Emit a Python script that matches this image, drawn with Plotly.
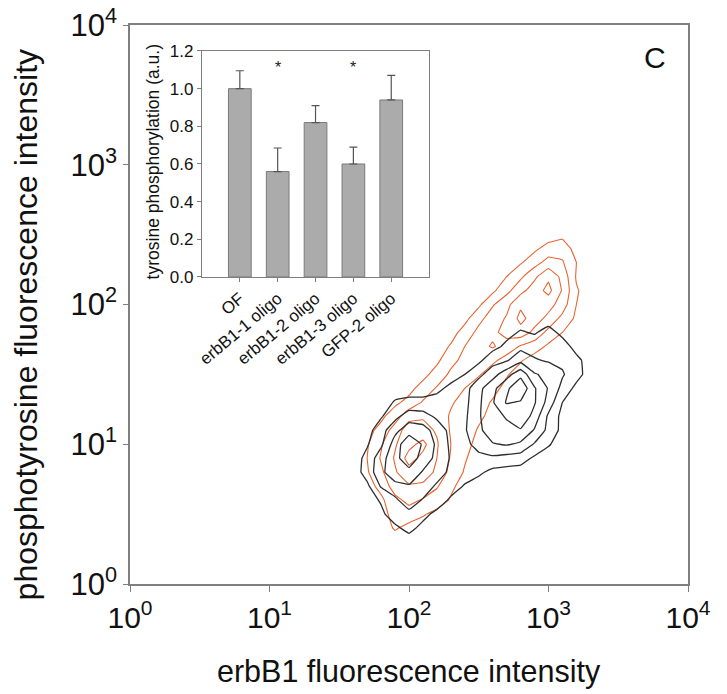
import numpy as np
import plotly.graph_objects as go

# ---------------- data ----------------
# inset bar chart
bar_labels = ["OF", "erbB1-1 oligo", "erbB1-2 oligo", "erbB1-3 oligo", "GFP-2 oligo"]
bar_values = [1.00, 0.56, 0.82, 0.60, 0.94]
bar_errors = [0.095, 0.125, 0.09, 0.09, 0.13]
signif = [False, True, False, True, False]

# density grids (log10 of intensities)
grid_log_x = [1.6, 1.7, 1.8, 1.9, 2.0, 2.1, 2.2, 2.3, 2.4, 2.5,
              2.6, 2.7, 2.8, 2.9, 3.0, 3.1, 3.2, 3.3, 3.4]
grid_log_y_top_down = [2.6, 2.5, 2.4, 2.3, 2.2, 2.1, 2.0, 1.9, 1.8, 1.7, 1.6, 1.5,
                       1.4, 1.3, 1.2, 1.1, 1.0, 0.9, 0.8, 0.7, 0.6, 0.5, 0.4, 0.3]

# orange: erbB1 antisense oligo treated cells (rows top -> bottom)
orange_density = [
    # 1.6 1.7 1.8 1.9 2.0 2.1 2.2 2.3 2.4 2.5 2.6 2.7 2.8 2.9 3.0 3.1 3.2 3.3 3.4
    [0, 0, 0, 0, 0, 0, 0, 0, 0, 0, 0, 0, 0, 0, 0, 0, 0, 0, 0],                       # 2.6
    [0, 0, 0, 0, 0, 0, 0, 0, 0, 0, 0, 0, 0, 0, 0, 0.2, 0, 0, 0],                     # 2.5
    [0, 0, 0, 0, 0, 0, 0, 0, 0, 0, 0, 0, 0, 0.3, 0.9, 1.1, 0.1, 0, 0],               # 2.4
    [0, 0, 0, 0, 0, 0, 0, 0, 0, 0, 0, 0, 0.4, 1.1, 1.9, 1.6, 0.5, 0, 0],             # 2.3
    [0, 0, 0, 0, 0, 0, 0, 0, 0, 0, 0, 0.5, 1.3, 2.3, 3.3, 2.2, 0.4, 0, 0],           # 2.2
    [0, 0, 0, 0, 0, 0, 0, 0, 0, 0, 0.3, 1.2, 2.2, 3.0, 3.8, 2.4, 0.6, 0, 0],         # 2.1
    [0, 0, 0, 0, 0, 0, 0, 0, 0, 0.3, 1.4, 2.2, 3.3, 3.2, 2.9, 2.0, 0.5, 0, 0],       # 2.0
    [0, 0, 0, 0, 0, 0, 0, 0, 0.2, 1.2, 2.0, 2.6, 3.8, 3.0, 2.2, 1.2, 0.3, 0, 0],     # 1.9
    [0, 0, 0, 0, 0, 0, 0, 0.1, 0.9, 1.8, 2.3, 2.8, 3.1, 2.2, 1.2, 0.5, 0, 0, 0],     # 1.8
    [0, 0, 0, 0, 0, 0, 0, 0.6, 1.5, 2.2, 2.6, 2.1, 1.4, 1.0, 0.3, 0, 0, 0, 0],       # 1.7
    [0, 0, 0, 0, 0, 0, 0.3, 1.2, 1.8, 2.0, 1.7, 1.1, 0.6, 0, 0, 0, 0, 0, 0],         # 1.6
    [0, 0, 0, 0, 0, 0.2, 0.9, 1.7, 2.0, 1.6, 1.0, 0.6, 0, 0, 0, 0, 0, 0, 0],         # 1.5
    [0, 0, 0, 0, 0.2, 0.9, 1.6, 1.8, 1.5, 1.0, 0.8, 0.2, 0, 0, 0, 0, 0, 0, 0],       # 1.4
    [0, 0, 0, 0.3, 0.8, 1.6, 1.9, 1.6, 1.2, 0.9, 0.4, 0, 0, 0, 0, 0, 0, 0, 0],       # 1.3
    [0, 0, 0.3, 1.0, 2.2, 2.4, 2.0, 1.4, 1.1, 0.7, 0.2, 0, 0, 0, 0, 0, 0, 0, 0],     # 1.2
    [0, 0.2, 0.8, 2.0, 3.0, 2.8, 2.4, 1.4, 1.0, 0.4, 0, 0, 0, 0, 0, 0, 0, 0, 0],     # 1.1
    [0, 0.4, 1.4, 2.4, 3.2, 3.8, 2.6, 1.5, 0.8, 0.2, 0, 0, 0, 0, 0, 0, 0, 0, 0],     # 1.0
    [0, 0.5, 1.6, 2.6, 3.9, 3.2, 2.5, 1.4, 0.6, 0, 0, 0, 0, 0, 0, 0, 0, 0, 0],       # 0.9
    [0, 0.4, 1.3, 2.4, 3.1, 3.3, 2.2, 1.2, 0.4, 0, 0, 0, 0, 0, 0, 0, 0, 0, 0],       # 0.8
    [0, 0.1, 0.8, 2.0, 2.4, 2.2, 1.6, 0.7, 0.1, 0, 0, 0, 0, 0, 0, 0, 0, 0, 0],       # 0.7
    [0, 0, 0.3, 1.2, 1.8, 1.4, 1.0, 0.4, 0, 0, 0, 0, 0, 0, 0, 0, 0, 0, 0],           # 0.6
    [0, 0, 0.1, 0.9, 1.0, 0.6, 0.2, 0, 0, 0, 0, 0, 0, 0, 0, 0, 0, 0, 0],             # 0.5
    [0, 0, 0, 0.6, 0.2, 0, 0, 0, 0, 0, 0, 0, 0, 0, 0, 0, 0, 0, 0],                   # 0.4
    [0, 0, 0, 0, 0, 0, 0, 0, 0, 0, 0, 0, 0, 0, 0, 0, 0, 0, 0],                       # 0.3
]

# black: control cells (rows top -> bottom)
black_density = [
    # 1.6 1.7 1.8 1.9 2.0 2.1 2.2 2.3 2.4 2.5 2.6 2.7 2.8 2.9 3.0 3.1 3.2 3.3 3.4
    [0, 0, 0, 0, 0, 0, 0, 0, 0, 0, 0, 0, 0, 0, 0, 0, 0, 0, 0],                       # 2.6
    [0, 0, 0, 0, 0, 0, 0, 0, 0, 0, 0, 0, 0, 0, 0, 0, 0, 0, 0],                       # 2.5
    [0, 0, 0, 0, 0, 0, 0, 0, 0, 0, 0, 0, 0, 0, 0, 0, 0, 0, 0],                       # 2.4
    [0, 0, 0, 0, 0, 0, 0, 0, 0, 0, 0, 0, 0, 0, 0, 0, 0, 0, 0],                       # 2.3
    [0, 0, 0, 0, 0, 0, 0, 0, 0, 0, 0, 0, 0, 0, 0, 0, 0, 0, 0],                       # 2.2
    [0, 0, 0, 0, 0, 0, 0, 0, 0, 0, 0, 0, 0, 0, 0, 0, 0, 0, 0],                       # 2.1
    [0, 0, 0, 0, 0, 0, 0, 0, 0, 0, 0, 0, 0, 0, 0, 0, 0, 0, 0],                       # 2.0
    [0, 0, 0, 0, 0, 0, 0, 0, 0, 0, 0, 0, 0, 0, 0, 0, 0, 0, 0],                       # 1.9
    [0, 0, 0, 0, 0, 0, 0, 0, 0, 0, 0, 0.2, 0.6, 0.4, 0.9, 0.2, 0, 0, 0],             # 1.8
    [0, 0, 0, 0, 0, 0, 0, 0, 0, 0, 0.2, 0.7, 1.2, 1.1, 1.3, 1.0, 0.1, 0, 0],         # 1.7
    [0, 0, 0, 0, 0, 0, 0, 0, 0, 0.3, 1.1, 1.4, 2.2, 1.6, 1.4, 1.3, 0.8, 0, 0],       # 1.6
    [0, 0, 0, 0, 0, 0, 0, 0, 0.5, 1.2, 2.1, 3.1, 4.2, 2.6, 2.2, 1.6, 0.9, 0, 0],     # 1.5
    [0, 0, 0, 0, 0, 0, 0.2, 0.8, 1.1, 2.2, 3.2, 4.3, 5.3, 3.6, 2.4, 1.2, 0.2, 0, 0], # 1.4
    [0, 0, 0, 0.6, 0.8, 0.8, 1.0, 1.1, 1.2, 2.3, 3.4, 4.6, 4.4, 3.6, 2.1, 0.5, 0, 0, 0],  # 1.3
    [0, 0, 0.4, 1.2, 2.0, 1.9, 1.3, 1.0, 1.3, 2.4, 3.1, 3.6, 4.3, 3.1, 1.3, 0.2, 0, 0, 0],  # 1.2
    [0, 0.1, 1.1, 2.2, 3.1, 2.9, 2.1, 1.2, 1.4, 2.2, 3.3, 3.2, 3.4, 2.4, 1.2, 0.2, 0, 0, 0],  # 1.1
    [0, 0.4, 1.3, 3.0, 4.2, 3.4, 2.3, 1.3, 1.2, 1.9, 2.4, 2.6, 2.3, 1.4, 0.6, 0, 0, 0, 0],    # 1.0
    [0, 0.8, 2.1, 3.2, 4.1, 3.1, 2.2, 1.4, 1.1, 1.2, 1.3, 1.1, 1.0, 0.3, 0, 0, 0, 0, 0],      # 0.9
    [0, 0.9, 2.2, 3.3, 3.2, 2.4, 2.1, 1.2, 1.0, 0.7, 0.2, 0.1, 0, 0, 0, 0, 0, 0, 0],          # 0.8
    [0, 0.3, 1.6, 2.1, 2.4, 2.2, 1.3, 1.0, 0.4, 0, 0, 0, 0, 0, 0, 0, 0, 0, 0],                # 0.7
    [0, 0.1, 0.6, 1.3, 2.1, 1.4, 1.1, 0.3, 0, 0, 0, 0, 0, 0, 0, 0, 0, 0, 0],                  # 0.6
    [0, 0, 0.3, 1.0, 1.2, 0.8, 0.2, 0, 0, 0, 0, 0, 0, 0, 0, 0, 0, 0, 0],                      # 0.5
    [0, 0, 0, 0.3, 0.8, 0.2, 0, 0, 0, 0, 0, 0, 0, 0, 0, 0, 0, 0, 0],                          # 0.4
    [0, 0, 0, 0, 0, 0, 0, 0, 0, 0, 0, 0, 0, 0, 0, 0, 0, 0, 0],                                # 0.3
]

main_tick_vals = [1, 10, 100, 1000, 10000]
main_tick_text = ["10<sup>0</sup>", "10<sup>1</sup>", "10<sup>2</sup>",
                  "10<sup>3</sup>", "10<sup>4</sup>"]
inset_tick_vals = [0.0, 0.2, 0.4, 0.6, 0.8, 1.0, 1.2]
inset_tick_text = ["0.0", "0.2", "0.4", "0.6", "0.8", "1.0", "1.2"]

# ---------------- figure ----------------
FONT = "Liberation Sans, Arial, sans-serif"
AXIS_GREY = "#7f7f7f"
ORANGE = "#E8632E"
BLACK = "#2e2e2e"

gx = [10 ** v for v in grid_log_x]
gy = [10 ** v for v in grid_log_y_top_down[::-1]]

fig = go.Figure()

for dens, col, w in [(orange_density, ORANGE, 1.1), (black_density, BLACK, 1.3)]:
    fig.add_trace(go.Contour(
        x=gx, y=gy, z=dens[::-1],
        contours=dict(coloring="lines", start=0.5, end=5.5, size=1),
        colorscale=[[0, col], [1, col]],
        line=dict(width=w, smoothing=0.15),
        showscale=False, hoverinfo="skip",
        xaxis="x", yaxis="y",
    ))

# inset bars
bar_pos = list(range(len(bar_labels)))
fig.add_trace(go.Bar(
    x=bar_pos, y=bar_values, width=0.6,
    marker=dict(color="#ababab", line=dict(color="#7a7a7a", width=1)),
    error_y=dict(type="data", symmetric=False, array=bar_errors,
                 arrayminus=[0] * len(bar_errors),
                 color="#555555", thickness=1.2, width=4),
    xaxis="x2", yaxis="y2", showlegend=False,
))

annotations = []
for i, s in enumerate(signif):
    if s:
        annotations.append(dict(x=bar_pos[i], y=1.11, xref="x2", yref="y2",
                                text="*", showarrow=False,
                                font=dict(size=16, color="#222", family=FONT)))

annotations += [
    dict(text="C", x=0.941, y=0.941, xref="paper", yref="paper",
         xanchor="center", yanchor="middle", showarrow=False,
         font=dict(size=30, color="#111", family=FONT)),
    dict(text="phosphotyrosine fluorescence intensity", x=-0.186, y=0.463,
         xref="paper", yref="paper", xanchor="center", yanchor="middle",
         textangle=-90, showarrow=False,
         font=dict(size=32, color="#111", family=FONT)),
    dict(text="erbB1 fluorescence intensity", x=0.5, y=-0.157,
         xref="paper", yref="paper", xanchor="center", yanchor="middle",
         showarrow=False, font=dict(size=30.5, color="#111", family=FONT)),
    dict(text="tyrosine phosphorylation (a.u.)", x=0.042, y=0.755,
         xref="paper", yref="paper", xanchor="center", yanchor="middle",
         textangle=-90, showarrow=False,
         font=dict(size=17.5, color="#111", family=FONT)),
]

fig.update_layout(
    width=727, height=694,
    margin=dict(l=130, r=39, t=25, b=110, autoexpand=False),
    paper_bgcolor="white", plot_bgcolor="white",
    font=dict(family=FONT, color="#111"),
    showlegend=False,
    xaxis=dict(type="log", range=[0, 4], tickvals=main_tick_vals, ticktext=main_tick_text,
               automargin=False,
               showgrid=False, zeroline=False, showline=True, mirror=True,
               linecolor=AXIS_GREY, linewidth=1.5, ticks="outside", ticklen=6,
               tickcolor=AXIS_GREY, tickfont=dict(size=30, family=FONT, color="#111")),
    yaxis=dict(type="log", range=[0, 4], tickvals=main_tick_vals, ticktext=main_tick_text,
               automargin=False,
               showgrid=False, zeroline=False, showline=True, mirror=True,
               linecolor=AXIS_GREY, linewidth=1.5, ticks="outside", ticklen=5,
               tickcolor=AXIS_GREY, tickfont=dict(size=31, family=FONT, color="#111")),
    xaxis2=dict(domain=[0.129, 0.536], anchor="y2", range=[-1, 5],
                tickvals=bar_pos, ticktext=bar_labels, tickangle=-40,
                automargin=False,
                showgrid=False, zeroline=False, showline=True, mirror=True,
                linecolor=AXIS_GREY, linewidth=1.2, ticks="outside", ticklen=4,
                tickcolor=AXIS_GREY, tickfont=dict(size=17, family=FONT, color="#111")),
    yaxis2=dict(domain=[0.5492, 0.9535], anchor="x2", range=[0, 1.2],
                tickvals=inset_tick_vals, ticktext=inset_tick_text,
                automargin=False,
                showgrid=False, zeroline=False, showline=True, mirror=True,
                linecolor=AXIS_GREY, linewidth=1.2, ticks="outside", ticklen=4,
                tickcolor=AXIS_GREY, tickfont=dict(size=17, family=FONT, color="#111")),
    annotations=annotations,
)

fig.write_html("out.html",
               config={"displayModeBar": False},
               post_script="document.body.style.margin='0';document.body.style.padding='0';")
